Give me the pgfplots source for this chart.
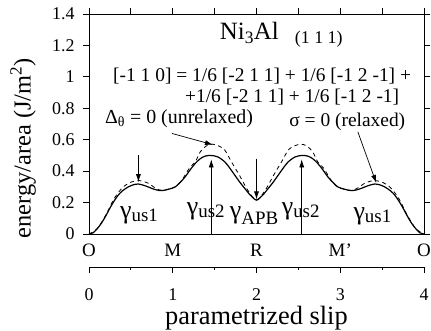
\documentclass[border=0pt]{standalone}
\usepackage{fontspec}
\setmainfont{Liberation Serif}
\usepackage{pgfplots}
\usepackage{pgfplotstable}
\pgfplotsset{compat=1.18}
\usetikzlibrary{arrows.meta}

\pgfplotstableread{
x y
0 0
0.05 0.008
0.1 0.035
0.15 0.07
0.2 0.115
0.25 0.165
0.3 0.21
0.35 0.248
0.4 0.275
0.47 0.30
0.53 0.313
0.59 0.318
0.67 0.307
0.75 0.29
0.81 0.28
0.87 0.276
0.95 0.285
1.03 0.30
1.1 0.335
1.15 0.365
1.21 0.41
1.27 0.45
1.33 0.48
1.39 0.496
1.46 0.50
1.54 0.49
1.62 0.46
1.68 0.42
1.74 0.375
1.8 0.33
1.86 0.29
1.93 0.245
2.0 0.216
2.07 0.245
2.14 0.29
2.2 0.33
2.26 0.375
2.32 0.42
2.38 0.46
2.46 0.49
2.54 0.50
2.61 0.496
2.67 0.48
2.73 0.45
2.79 0.41
2.85 0.365
2.9 0.335
2.97 0.30
3.05 0.285
3.13 0.276
3.19 0.28
3.25 0.29
3.33 0.307
3.41 0.318
3.47 0.313
3.53 0.30
3.6 0.275
3.65 0.248
3.7 0.21
3.75 0.165
3.8 0.115
3.85 0.07
3.9 0.035
3.95 0.008
4 0
}\relaxed

\pgfplotstableread{
x y
0 0
0.1 0.035
0.2 0.12
0.3 0.225
0.4 0.295
0.5 0.33
0.6 0.34
0.7 0.325
0.8 0.29
0.87 0.277
0.95 0.285
1.03 0.30
1.1 0.335
1.2 0.42
1.27 0.46
1.33 0.524
1.4 0.56
1.47 0.572
1.55 0.56
1.62 0.535
1.7 0.46
1.8 0.37
1.9 0.275
2.0 0.216
2.1 0.275
2.2 0.37
2.3 0.46
2.38 0.535
2.45 0.56
2.53 0.572
2.6 0.56
2.67 0.524
2.73 0.46
2.8 0.42
2.9 0.335
2.97 0.30
3.05 0.285
3.13 0.277
3.2 0.29
3.3 0.325
3.4 0.34
3.5 0.33
3.6 0.295
3.7 0.225
3.8 0.12
3.9 0.035
4 0
}\unrelaxed

\newcommand{\gl}[1]{{\fontsize{26}{26}\selectfont γ}\raisebox{-3bp}{\fontsize{19}{19}\selectfont #1}}
\newcommand{\ann}{\fontsize{19.5}{22}\selectfont}

\begin{document}
\begin{tikzpicture}
\useasboundingbox (-89bp,-97bp) rectangle (342bp,234bp);
\begin{axis}[
  name=main,
  at={(0,0)}, anchor=south west,
  scale only axis, width=335bp, height=220bp,
  xmin=0, xmax=4, ymin=0, ymax=1.4,
  xtick={0,0.5,...,4}, xtick pos=right, xticklabels={},
  ytick={0,0.2,...,1.4}, yticklabel pos=left,
  yticklabels={0,0.2,0.4,0.6,0.8,1,1.2,1.4},
  /pgf/number format/assume math mode=true,
  tick align=outside, major tick length=6bp,
  axis line style={line width=0.8bp}, tick style={line width=0.8bp, black},
  yticklabel style={font=\fontsize{18}{20}\selectfont, xshift=-5bp},
  ylabel={energy/area (J/m\textsuperscript{2})},
  ylabel style={font=\fontsize{24.5}{26}\selectfont, at={(axis description cs:-0.197,0.39)}, anchor=center},
  clip=false,
]
\addplot[black, line width=1.2bp, smooth, tension=0.5] table[x=x,y=y] {\relaxed};
\addplot[black, line width=0.8bp, dash pattern=on 4bp off 3.5bp, smooth, tension=0.5] table[x=x,y=y] {\unrelaxed};

\node[anchor=base west, inner sep=0] at (axis cs:1.56,1.235) {\fontsize{25}{28}\selectfont Ni\textsubscript{3}Al\hspace{16bp}\raisebox{-4bp}{\fontsize{18}{20}\selectfont (1 1 1)}};
\node[anchor=base west, inner sep=0] at (axis cs:0.287,0.97) {\ann [-1 1 0] = 1/6 [-2 1 1] + 1/6 [-1 2 -1] +};
\node[anchor=base west, inner sep=0] at (axis cs:1.146,0.836) {\ann +1/6 [-2 1 1] + 1/6 [-1 2 -1]};
\node[anchor=base west, inner sep=0] at (axis cs:0.19,0.705) {\fontsize{20}{22}\selectfont Δ\textsubscript{θ} = 0 (unrelaxed)};
\node[anchor=base west, inner sep=0] at (axis cs:2.39,0.685) {\ann σ = 0 (relaxed)};

\node[anchor=base west, inner sep=0] at (axis cs:0.37,0.10) {\gl{us1}};
\node[anchor=base west, inner sep=0] at (axis cs:1.167,0.125) {\gl{us2}};
\node[anchor=base west, inner sep=0] at (axis cs:1.68,0.10) {{\fontsize{26}{26}\selectfont γ}\raisebox{-6bp}{\fontsize{19}{19}\selectfont APB}};
\node[anchor=base west, inner sep=0] at (axis cs:2.30,0.125) {\gl{us2}};
\node[anchor=base west, inner sep=0] at (axis cs:3.156,0.095) {\gl{us1}};

\draw[line width=0.7bp, -{Latex[length=8bp,width=5bp]}] (axis cs:0.59,0.50) -- (axis cs:0.59,0.33);
\draw[line width=0.7bp, -{Latex[length=8bp,width=5bp]}] (axis cs:1.46,0) -- (axis cs:1.46,0.475);
\draw[line width=0.7bp, -{Latex[length=8bp,width=5bp]}] (axis cs:2.0,0.48) -- (axis cs:2.0,0.22);
\draw[line width=0.7bp, -{Latex[length=8bp,width=5bp]}] (axis cs:2.54,0) -- (axis cs:2.54,0.475);
\draw[line width=0.7bp, -{Latex[length=8bp,width=5bp]}] (axis cs:3.21,0.65) -- (axis cs:3.43,0.325);
\draw[line width=0.7bp, -{Latex[length=8bp,width=5bp]}] (axis cs:0.99,0.64) -- (axis cs:1.48,0.568);

\node[font=\fontsize{19}{20}\selectfont] at (axis cs:0,-0.105) {O};
\node[font=\fontsize{19}{20}\selectfont] at (axis cs:1,-0.105) {M};
\node[font=\fontsize{19}{20}\selectfont] at (axis cs:2,-0.105) {R};
\node[font=\fontsize{19}{20}\selectfont] at (axis cs:3,-0.105) {M'};
\node[font=\fontsize{19}{20}\selectfont] at (axis cs:4,-0.105) {O};
\end{axis}

\begin{axis}[
  at={(0,-33bp)}, anchor=south west,
  scale only axis, width=335bp, height=10bp,
  xmin=0, xmax=4, ymin=0, ymax=1,
  axis x line*=bottom, hide y axis,
  xtick={0,1,2,3,4}, minor xtick={0.5,1.5,2.5,3.5},
  /pgf/number format/assume math mode=true,
  tick align=outside, major tick length=6bp, minor tick length=3bp,
  axis line style={line width=0.8bp, -}, tick style={line width=0.8bp, black},
  xticklabel style={font=\fontsize{18}{20}\selectfont, yshift=-12bp},
  xlabel={parametrized slip},
  xlabel style={font=\fontsize{26.5}{28}\selectfont, yshift=1bp},
]
\end{axis}
\end{tikzpicture}
\end{document}
